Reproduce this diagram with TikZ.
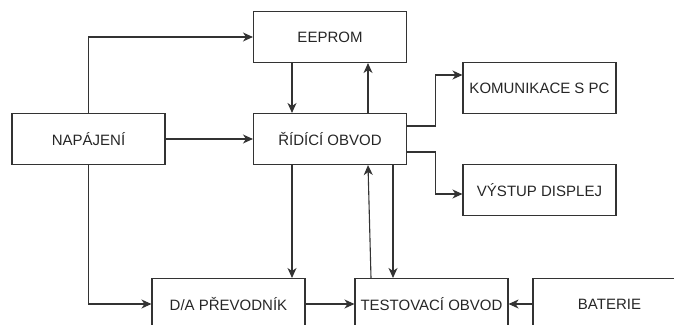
\documentclass[tikz,border=0pt]{standalone}
\usepackage{fontspec}
\setmainfont{Liberation Sans}
\usetikzlibrary{arrows.meta}
\begin{document}
\begin{tikzpicture}[
        x=1pt, y=-1pt,
        block/.style={draw=black!80, line width=1.1pt, minimum width=153pt, minimum height=51pt, inner sep=0pt, align=center, font=\fontsize{15}{18}\selectfont, text=black!85},
        arrow/.style={-{Stealth[length=10pt,width=9pt,inset=3pt]}, line width=1.1pt, draw=black!80}
    ]
        \useasboundingbox (0,0) rectangle (674,324);
        % blocks of the tester
        \node[block] (eeprom) at (330,37) {EEPROM};
        \node[block] (napajeni) at (88.5,139) {NAPÁJENÍ};
        \node[block] (ridici) at (330,139) {ŘÍDÍCÍ OBVOD};
        \node[block] (komunikace) at (539.5,88) {KOMUNIKACE S PC};
        \node[block] (vystup) at (539.5,190) {VÝSTUP DISPLEJ};
        \node[block] (prevodnik) at (228.5,304) {D/A PŘEVODNÍK};
        \node[block] (testovaci) at (431.5,304) {TESTOVACÍ OBVOD};
        \node[block] (baterie) at (609.5,304) {BATERIE};
        % power supply lines
        \draw[arrow] (napajeni.north) |- (eeprom.west);
        \draw[arrow] (napajeni) -- (ridici);
        \draw[arrow] (napajeni.south) |- (prevodnik.west);
        % control unit and memory
        \draw[arrow] ([xshift=-38pt]eeprom.south) -- ([xshift=-38pt]ridici.north);
        \draw[arrow] ([xshift=38pt]ridici.north) -- ([xshift=38pt]eeprom.south);
        % outputs of the control unit
        \draw[arrow] ([yshift=13pt]ridici.east) -- ++(28,0) |- ([yshift=13pt]komunikace.west);
        \draw[arrow] ([yshift=-13pt]ridici.east) -- ++(28,0) |- ([yshift=-4pt]vystup.west);
        % measuring chain
        \draw[arrow] ([xshift=-38pt]ridici.south) -- ([xshift=-38pt]ridici.south |- prevodnik.north);
        \draw[arrow] ([xshift=-60.5pt]testovaci.north) -- ([xshift=38pt]ridici.south);
        \draw[arrow] ([xshift=63pt]ridici.south) -- ([xshift=63pt]ridici.south |- testovaci.north);
        \draw[arrow] (prevodnik) -- (testovaci);
        \draw[arrow] (baterie) -- (testovaci);
    \end{tikzpicture}
\end{document}
